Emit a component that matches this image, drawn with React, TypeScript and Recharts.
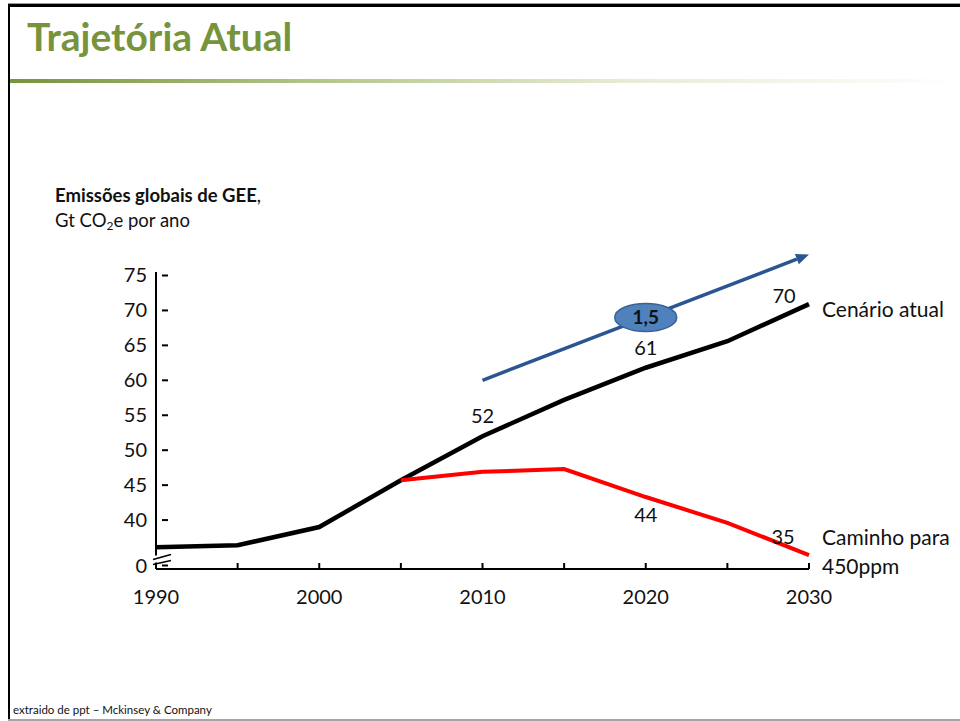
import React from 'react';
import { LineChart, Line, XAxis, YAxis, LabelList, ReferenceLine } from 'recharts';

const years = [1990, 1995, 2000, 2005, 2010, 2015, 2020, 2025, 2030];
const cenarioAtual = [36.1, 36.4, 39, 45.7, 52, 57.2, 61.8, 65.6, 70.9];
const caminho450 = [null, null, null, 45.7, 46.9, 47.3, 43.3, 39.6, 35];
const atualLabels = [null, null, null, null, '52', null, '61', null, '70'];
const caminhoLabels = [null, null, null, null, null, null, '44', null, '35'];

const xTickLabels = ['1990', '', '2000', '', '2010', '', '2020', '', '2030'];
// the lowest tick stands for the broken part of the axis, shown as "0"
const yTicks = [33.5, 40, 45, 50, 55, 60, 65, 70, 75];
const yTickLabels = ['0', '40', '45', '50', '55', '60', '65', '70', '75'];

const atualName = ['Cenário atual'];
const caminhoName = ['Caminho para', '450ppm'];

// growth arrow (start, end) in data units, with its badge
const arrowFrom = { x: 2010, y: 60 };
const arrowTo = { x: 2030, y: 78 };
const arrowBadge = '1,5';

const data = years.map((year, i) => ({
  year,
  atual: cenarioAtual[i],
  caminho: caminho450[i],
  atualLabel: atualLabels[i],
  caminhoLabel: caminhoLabels[i],
}));

const FONT = 'Lato, "Open Sans", sans-serif';

const XTick = (props: any) => {
  const { x, y, payload } = props;
  const i = years.indexOf(payload.value);
  const label = xTickLabels[i];
  return (
    <g>
      <line x1={x} x2={x} y1={y} y2={y - 6} stroke="#000" strokeWidth={2} />
      {label ? (
        <text x={x} y={y + 35} textAnchor="middle" fontSize={20} fontFamily={FONT} fill="#111">
          {label}
        </text>
      ) : null}
    </g>
  );
};

const YTick = (props: any) => {
  const { x, y, payload } = props;
  const i = yTicks.indexOf(payload.value);
  const isBreak = i === 0;
  return (
    <g>
      {isBreak ? (
        <g>
          <rect x={x - 3} y={y - 10} width={5} height={7} fill="#fff" />
          <line x1={x - 3} y1={y - 6} x2={x + 15} y2={y - 11} stroke="#000" strokeWidth={1.5} />
          <line x1={x - 3} y1={y - 1} x2={x + 15} y2={y - 5} stroke="#000" strokeWidth={1.5} />
        </g>
      ) : null}
      <line x1={x + 6} x2={x + 12} y1={y} y2={y} stroke="#000" strokeWidth={2} />
      <text x={x - 9} y={y + 7} textAnchor="end" fontSize={20} fontFamily={FONT} fill="#111">
        {yTickLabels[i]}
      </text>
    </g>
  );
};

const lastIndex = years.length - 1;

const atualLabel = (props: any) => {
  const { x, y, value, index } = props;
  const last = index === lastIndex;
  return (
    <g>
      {value ? (
        <text
          x={last ? x - 25 : x}
          y={last ? y - 1 : y - 13}
          textAnchor="middle"
          fontSize={20}
          fontFamily={FONT}
          fill="#111"
        >
          {value}
        </text>
      ) : null}
      {last ? (
        <text x={x + 13} y={y + 13} fontSize={21} fontFamily={FONT} fill="#111">
          {atualName[0]}
        </text>
      ) : null}
    </g>
  );
};

const caminhoLabel = (props: any) => {
  const { x, y, value, index } = props;
  const last = index === lastIndex;
  return (
    <g>
      {value ? (
        <text
          x={last ? x - 26 : x}
          y={last ? y - 11 : y + 25}
          textAnchor="middle"
          fontSize={20}
          fontFamily={FONT}
          fill="#111"
        >
          {value}
        </text>
      ) : null}
      {last ? (
        <g>
          <text x={x + 13} y={y - 10} fontSize={21} fontFamily={FONT} fill="#111">
            {caminhoName[0]}
          </text>
          <text x={x + 13} y={y + 19} fontSize={21} fontFamily={FONT} fill="#111">
            {caminhoName[1]}
          </text>
        </g>
      ) : null}
    </g>
  );
};

const GrowthArrow = (props: any) => {
  const { x1, y1, x2, y2 } = props;
  const dx = x2 - x1;
  const dy = y2 - y1;
  const len = Math.sqrt(dx * dx + dy * dy);
  const ux = dx / len;
  const uy = dy / len;
  const headLen = 13;
  const headW = 5.5;
  const bx = x2 - ux * headLen;
  const by = y2 - uy * headLen;
  const mx = (x1 + x2) / 2;
  const my = (y1 + y2) / 2;
  const color = '#2B5590';
  return (
    <g>
      <line x1={x1} y1={y1} x2={bx} y2={by} stroke={color} strokeWidth={3.5} />
      <polygon
        points={`${x2},${y2} ${bx - uy * headW},${by + ux * headW} ${bx + uy * headW},${by - ux * headW}`}
        fill={color}
      />
      <ellipse cx={mx} cy={my} rx={31} ry={14} fill="#4F81BD" stroke="#3A6394" strokeWidth={1.5} />
      <text x={mx} y={my + 7} textAnchor="middle" fontSize={19} fontWeight="bold" fontFamily={FONT} fill="#111">
        {arrowBadge}
      </text>
    </g>
  );
};

export default function App() {
  return (
    <div
      style={{
        position: 'absolute',
        left: 0,
        top: 0,
        width: 960,
        height: 721,
        background: '#fff',
        overflow: 'hidden',
        fontFamily: FONT,
      }}
    >
      {/* slide frame */}
      <div style={{ position: 'absolute', left: 8, top: 3, width: 952, height: 1, background: '#9a9a9a' }} />
      <div style={{ position: 'absolute', left: 8, top: 4, width: 952, height: 3, background: '#000' }} />
      <div style={{ position: 'absolute', left: 8, top: 4, width: 2, height: 717, background: '#000' }} />
      <div style={{ position: 'absolute', left: 8, top: 719, width: 952, height: 2, background: '#a6a6a6' }} />

      <div
        style={{
          position: 'absolute',
          left: 27,
          top: 12,
          fontSize: 39,
          fontWeight: 700,
          color: '#77933C',
          whiteSpace: 'nowrap',
          lineHeight: '48px',
        }}
      >
        Trajetória Atual
      </div>
      <div
        style={{
          position: 'absolute',
          left: 10,
          top: 79,
          width: 950,
          height: 4,
          background: 'linear-gradient(to right, #77933C 0%, #B9C98F 35%, #E6ECD6 65%, #ffffff 100%)',
        }}
      />

      <div style={{ position: 'absolute', left: 55, top: 183, fontSize: 18.5, color: '#111', lineHeight: '25px' }}>
        <div>
          <b>Emissões globais de GEE</b>,
        </div>
        <div>
          Gt CO<sub style={{ fontSize: 12, verticalAlign: -3 }}>2</sub>e por ano
        </div>
      </div>

      <div style={{ position: 'absolute', left: 13, top: 703, fontSize: 11.5, color: '#111', whiteSpace: 'nowrap' }}>
        extraido de ppt – Mckinsey &amp; Company
      </div>

      <div style={{ position: 'absolute', left: 0, top: 0 }}>
        <LineChart width={960} height={721} data={data} margin={{ top: 272, right: 151, bottom: 112, left: 96 }}>
          <XAxis
            dataKey="year"
            type="number"
            domain={[1990, 2030]}
            ticks={years}
            tick={<XTick />}
            tickLine={false}
            tickSize={0}
            tickMargin={0}
            height={40}
            axisLine={{ stroke: '#000', strokeWidth: 2 }}
            interval={0}
          />
          <YAxis
            type="number"
            domain={[33, 75.5]}
            ticks={yTicks}
            tick={<YTick />}
            tickLine={false}
            tickSize={0}
            tickMargin={0}
            width={60}
            axisLine={{ stroke: '#000', strokeWidth: 2 }}
            interval={0}
          />
          <Line
            dataKey="atual"
            stroke="#000"
            strokeWidth={4.5}
            dot={false}
            isAnimationActive={false}
            type="linear"
          >
            <LabelList dataKey="atualLabel" content={atualLabel} />
          </Line>
          <Line
            dataKey="caminho"
            stroke="#FF0000"
            strokeWidth={4}
            dot={false}
            isAnimationActive={false}
            type="linear"
          >
            <LabelList dataKey="caminhoLabel" content={caminhoLabel} />
          </Line>
          <ReferenceLine
            segment={[arrowFrom, arrowTo]}
            ifOverflow="visible"
            shape={<GrowthArrow />}
          />
        </LineChart>
      </div>
    </div>
  );
}
